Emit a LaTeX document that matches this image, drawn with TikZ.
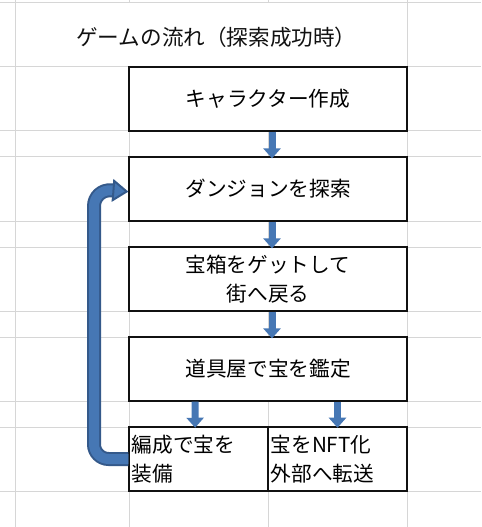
\documentclass[tikz,border=0pt]{standalone}
\usepackage{fontspec}
\setmainfont{Noto Sans CJK JP}
\usepackage{xcolor}
\usetikzlibrary{arrows.meta,positioning,calc}
\definecolor{ink}{HTML}{111111}
\definecolor{gridgray}{HTML}{D6D6D6}
\definecolor{arrowblue}{HTML}{4677B4}
\definecolor{arrowedge}{HTML}{34598A}
\tikzset{
  stepbox/.style={draw=ink,fill=white,line width=0.9pt,minimum width=208.5pt,
                  minimum height=48pt,align=center,inner sep=2pt,
                  font=\fontsize{15.5}{22}\selectfont},
  halfbox/.style={stepbox,minimum width=104.25pt,text width=100.25pt,
                  align=left},
  downarr/.style={-{Triangle[length=7.5pt,width=12.75pt]},line width=5.25pt,
                  draw=arrowblue},
  looparr/.style={-{Triangle[length=12pt,width=17pt,fill=arrowblue]},
                  draw=arrowedge,line width=1.5pt,double=arrowblue,
                  double distance=7.5pt},
  gridln/.style={draw=gridgray,line width=0.75pt}
}

\begin{document}
\begin{tikzpicture}[x=0.75pt,y=-0.75pt]
    \path[use as bounding box,fill=white] (0,0) rectangle (481,527);

    % sheet grid
    \foreach \gy in {3,67,131,157,221,247,311,337,401,427,491}
      \draw[gridln] (0,\gy) -- (481,\gy);
    \foreach \gx in {15,407}
      \draw[gridln] (\gx,0) -- (\gx,527);
    \foreach \gx in {129,268}
      \draw[gridln] (\gx,0) -- (\gx,3) (\gx,67) -- (\gx,527);

    \node[font=\fontsize{16.2}{20}\selectfont,anchor=west,inner sep=0pt,color=ink]
      (title) at (76,37) {ゲームの流れ（探索成功時）};

    \node[stepbox] (chara)    at (268,99)  {キャラクター作成};
    \node[stepbox] (dungeon)  at (268,189) {ダンジョンを探索};
    \node[stepbox] (treasure) at (268,279) {宝箱をゲットして\\街へ戻る};
    \node[stepbox] (appraise) at (268,369) {道具屋で宝を鑑定};
    \node[halfbox] (equip)    at (198.5,459) {編成で宝を\\装備};
    \node[halfbox] (nft)      at (337.5,459) {宝をNFT化\\外部へ転送};

    \draw[downarr] ([xshift=3pt]chara.south) -- ([xshift=3pt,yshift=-1.5pt]dungeon.north);
    \draw[downarr] ([xshift=3pt]dungeon.south) -- ([xshift=3pt,yshift=-1.5pt]treasure.north);
    \draw[downarr] ([xshift=3pt]treasure.south) -- ([xshift=3pt,yshift=-1.5pt]appraise.north);
    \draw[downarr] (appraise.south -| 195,0) -- ([xshift=-2.5pt,yshift=-1pt]equip.north);
    \draw[downarr] (appraise.south -| nft.north) -- ([yshift=-1pt]nft.north);

    % back to the dungeon
    \coordinate (loopx) at (94,0);
    \draw[looparr,rounded corners=11pt] (equip.west) -- (loopx |- equip.west)
      [rounded corners=13pt] -- (loopx |- dungeon.west) -- ([yshift=-2pt]dungeon.west);
\end{tikzpicture}
\end{document}
